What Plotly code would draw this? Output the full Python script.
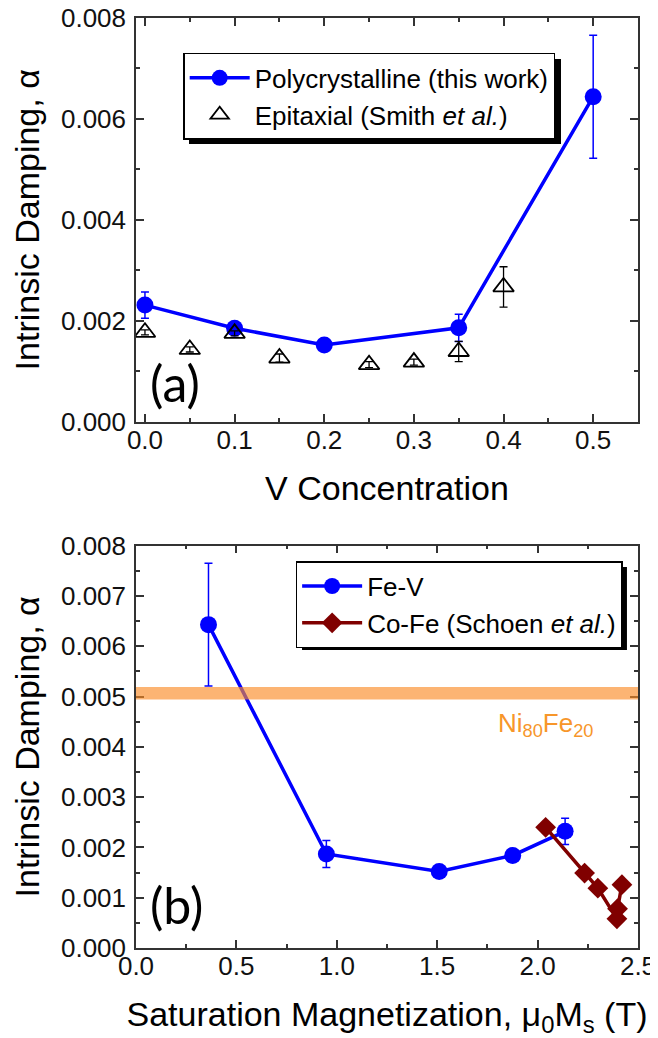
import plotly.graph_objects as go

# ---- Panel (a): damping vs V concentration ----
v_poly = [0.0, 0.1, 0.2, 0.35, 0.5]
alpha_poly = [0.00231, 0.00185, 0.00152, 0.00186, 0.00644]
err_poly = [0.00026, 0.00008, 0.00003, 0.00027, 0.00122]

v_epi = [0.0, 0.05, 0.1, 0.15, 0.25, 0.3, 0.35, 0.4]
alpha_epi = [0.00177, 0.00143, 0.00175, 0.00126, 0.00113, 0.00118, 0.00139, 0.00267]
err_epi = [0.00005, 0.00005, 0.00005, 0.00008, 0.00006, 0.00006, 0.00020, 0.00040]

# ---- Panel (b): damping vs saturation magnetization ----
ms_fev = [0.361, 0.948, 1.51, 1.876, 2.137]
alpha_fev = [0.00643, 0.00187, 0.00152, 0.00184, 0.00232]
err_fev = [0.00122, 0.00027, 0.00003, 0.00005, 0.00026]

ms_cofe = [2.04, 2.234, 2.30, 2.395, 2.398, 2.42]
alpha_cofe = [0.0024, 0.00149, 0.00119, 0.00058, 0.00078, 0.00126]

py_band = [0.00494, 0.00519]  # Ni80Fe20 reference band

FONT = "Liberation Sans, Arial, sans-serif"
BLUE = "#0000FF"
DRED = "#800000"
AX = "#333333"

fig = go.Figure()

fig.add_trace(go.Scatter(
    x=v_poly, y=alpha_poly, mode="lines+markers",
    name="Polycrystalline (this work)",
    line=dict(color=BLUE, width=3.5),
    marker=dict(symbol="circle", size=17, color=BLUE),
    error_y=dict(type="data", array=err_poly, color=BLUE, thickness=1.5, width=4),
    xaxis="x", yaxis="y", legend="legend"))

fig.add_trace(go.Scatter(
    x=v_epi, y=alpha_epi, mode="markers",
    name="Epitaxial (Smith <i>et al.</i>)",
    marker=dict(symbol="triangle-up-open", size=18, color="black", line=dict(width=1.8)),
    error_y=dict(type="data", array=err_epi, color="black", thickness=1.3, width=4),
    xaxis="x", yaxis="y", legend="legend"))

fig.add_trace(go.Scatter(
    x=ms_fev, y=alpha_fev, mode="lines+markers",
    name="Fe-V",
    line=dict(color=BLUE, width=3.5),
    marker=dict(symbol="circle", size=17, color=BLUE),
    error_y=dict(type="data", array=err_fev, color=BLUE, thickness=1.5, width=4),
    xaxis="x2", yaxis="y2", legend="legend2"))

fig.add_trace(go.Scatter(
    x=ms_cofe, y=alpha_cofe, mode="lines+markers",
    name="Co-Fe (Schoen <i>et al.</i>)",
    line=dict(color=DRED, width=3.5),
    marker=dict(symbol="diamond", size=16, color=DRED),
    xaxis="x2", yaxis="y2", legend="legend2"))

axis_common = dict(
    showline=True, linecolor=AX, linewidth=1.5, mirror="ticks",
    ticks="inside", ticklen=8, tickwidth=1.5, tickcolor=AX,
    showgrid=False, zeroline=False, automargin=False,
    ticklabeloverflow="allow",
    tickfont=dict(family=FONT, size=26, color="#111111"),
)

# page body has an 8px margin, so the figure is 650x1030 to fill the 658x1038 window
fig.update_layout(
    width=650, height=1030, autosize=False,
    margin=dict(l=128, r=20, t=10, b=90),
    paper_bgcolor="white", plot_bgcolor="white",
    font=dict(family=FONT, color="black"),
    xaxis=dict(domain=[0, 1], anchor="y", range=[-0.01, 0.55],
               tick0=0, dtick=0.1, tickformat=".1f", ticklabelstandoff=-6,
               minor=dict(tick0=0, dtick=0.05, ticks="inside", ticklen=4, tickcolor=AX, tickwidth=1.5),
               title=dict(text="V Concentration", font=dict(size=34), standoff=23),
               **axis_common),
    yaxis=dict(domain=[0.566, 1.0], anchor="x", range=[0, 0.008],
               tick0=0, dtick=0.002, tickformat=".3f", ticklabelstandoff=3,
               minor=dict(tick0=0, dtick=0.001, ticks="inside", ticklen=4, tickcolor=AX, tickwidth=1.5),
               title=dict(text="Intrinsic Damping, α", font=dict(size=34), standoff=13),
               **axis_common),
    xaxis2=dict(domain=[0, 1], anchor="y2", range=[0, 2.5],
                tick0=0, dtick=0.5, tickformat=".1f", ticklabelstandoff=-6,
                minor=dict(tick0=0, dtick=0.25, ticks="inside", ticklen=4, tickcolor=AX, tickwidth=1.5),
                title=dict(text="Saturation Magnetization, μ<sub>0</sub>M<sub>s</sub> (T)",
                           font=dict(size=34), standoff=23),
                **axis_common),
    yaxis2=dict(domain=[0, 0.4326], anchor="x2", range=[0, 0.008],
                tick0=0, dtick=0.001, tickformat=".3f", ticklabelstandoff=3,
                minor=dict(tick0=0, dtick=0.0005, ticks="inside", ticklen=4, tickcolor=AX, tickwidth=1.5),
                title=dict(text="Intrinsic Damping, α", font=dict(size=34), standoff=13),
                **axis_common),
    legend=dict(x=0.094, y=0.9624, xanchor="left", yanchor="top",
                bgcolor="white", bordercolor="black", borderwidth=1.5,
                font=dict(family=FONT, size=26, color="black"),
                itemwidth=60, tracegroupgap=0),
    legend2=dict(x=0.318, y=0.416, xanchor="left", yanchor="top",
                 bgcolor="white", bordercolor="black", borderwidth=1.5,
                 font=dict(family=FONT, size=26, color="black"),
                 itemwidth=60, tracegroupgap=0),
    showlegend=True,
)

# legend drop shadows (paper coordinates)
fig.add_shape(type="rect", xref="paper", yref="paper",
              x0=0.1056, x1=0.8466, y0=0.8645, y1=0.9559,
              fillcolor="black", line=dict(width=0), layer="above")
fig.add_shape(type="rect", xref="paper", yref="paper",
              x0=0.3307, x1=0.978, y0=0.3204, y1=0.4097,
              fillcolor="black", line=dict(width=0), layer="above")

# Ni80Fe20 reference band
fig.add_shape(type="rect", xref="x2 domain", yref="y2",
              x0=0, x1=1, y0=py_band[0], y1=py_band[1],
              fillcolor="rgba(250,140,40,0.65)", line=dict(width=0), layer="above")

fig.add_annotation(x=2.04, y=0.00444, xref="x2", yref="y2",
                   text="Ni<sub>80</sub>Fe<sub>20</sub>", showarrow=False,
                   font=dict(family=FONT, size=26, color="#F7962A"))

fig.add_annotation(x=0.034, y=0.00077, xref="x", yref="y", text="(a)", showarrow=False,
                   font=dict(family="Lato, Open Sans, sans-serif", size=50, color="black"))
fig.add_annotation(x=0.2, y=0.00086, xref="x2", yref="y2", text="(b)", showarrow=False,
                   font=dict(family="Lato, Open Sans, sans-serif", size=50, color="black"))

fig.write_html("out.html")
